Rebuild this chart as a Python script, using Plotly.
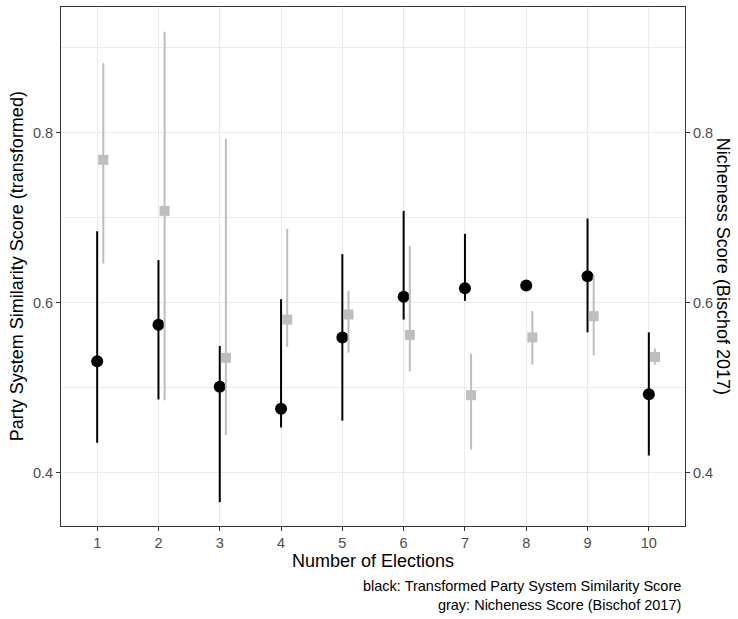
import plotly.graph_objects as go

elections = [1, 2, 3, 4, 5, 6, 7, 8, 9, 10]

# Transformed Party System Similarity Score (black)
sim_est = [0.531, 0.574, 0.501, 0.475, 0.559, 0.607, 0.617, 0.620, 0.631, 0.492]
sim_low = [0.435, 0.486, 0.365, 0.453, 0.461, 0.580, 0.602, 0.618, 0.565, 0.420]
sim_high = [0.684, 0.650, 0.549, 0.604, 0.657, 0.708, 0.681, 0.622, 0.699, 0.565]

# Nicheness Score (Bischof 2017) (gray)
niche_est = [0.768, 0.708, 0.535, 0.580, 0.586, 0.562, 0.491, 0.559, 0.584, 0.536]
niche_low = [0.646, 0.485, 0.444, 0.548, 0.541, 0.519, 0.427, 0.527, 0.538, 0.527]
niche_high = [0.882, 0.919, 0.793, 0.687, 0.614, 0.667, 0.540, 0.590, 0.631, 0.546]

y_ticks = [0.4, 0.6, 0.8]
y_minor = [0.5, 0.7, 0.9]
caption_lines = ["black: Transformed Party System Similarity Score",
                 "gray: Nicheness Score (Bischof 2017)"]

dodge = 0.1
yrange = [0.337, 0.948]
FONT = "Liberation Sans, Arial, sans-serif"
TICK_SIZE = 14.5
TITLE_SIZE = 18

fig = go.Figure()

fig.add_trace(go.Scatter(
    x=[e + dodge for e in elections], y=niche_est, mode="markers",
    marker=dict(symbol="square", size=10, color="#bebebe"),
    error_y=dict(type="data", symmetric=False,
                 array=[h - m for h, m in zip(niche_high, niche_est)],
                 arrayminus=[m - l for m, l in zip(niche_est, niche_low)],
                 color="#bebebe", thickness=2, width=0),
    yaxis="y2", showlegend=False, hoverinfo="x+y"))

fig.add_trace(go.Scatter(
    x=elections, y=sim_est, mode="markers",
    marker=dict(symbol="circle", size=12, color="black"),
    error_y=dict(type="data", symmetric=False,
                 array=[h - m for h, m in zip(sim_high, sim_est)],
                 arrayminus=[m - l for m, l in zip(sim_est, sim_low)],
                 color="black", thickness=2, width=0),
    showlegend=False, hoverinfo="x+y"))

axis_common = dict(
    showline=True, linecolor="#333333", linewidth=1,
    ticks="outside", ticklen=4, tickcolor="#333333", tickwidth=1,
    tickfont=dict(family=FONT, size=TICK_SIZE, color="#4d4d4d"),
    zeroline=False,
)

fig.update_layout(
    width=738, height=619,
    margin=dict(l=61, r=53, t=7, b=93),
    paper_bgcolor="white", plot_bgcolor="white",
    font=dict(family=FONT),
    xaxis=dict(
        range=[0.41, 10.59], tickmode="array", tickvals=elections,
        ticktext=[str(e) for e in elections],
        showgrid=True, gridcolor="#ebebeb", gridwidth=1.1,
        mirror=True, **axis_common),
    yaxis=dict(
        range=yrange, tickmode="array", tickvals=y_ticks,
        ticktext=[f"{v:.1f}" for v in y_ticks],
        showgrid=True, gridcolor="#ebebeb", gridwidth=1.1,
        minor=dict(tickmode="array", tickvals=y_minor,
                   showgrid=True, gridcolor="#ebebeb", gridwidth=0.6, ticks=""),
        mirror=True, **axis_common),
    yaxis2=dict(
        range=yrange, overlaying="y", side="right", tickmode="array",
        tickvals=y_ticks, ticktext=[f"{v:.1f}" for v in y_ticks],
        showgrid=False, **axis_common),
    annotations=[
        dict(text="Number of Elections", xref="paper", yref="paper",
             x=0.5, y=-0.068, xanchor="center", yanchor="middle",
             showarrow=False, font=dict(family=FONT, size=TITLE_SIZE, color="black")),
        dict(text="Party System Similarity Score (transformed)", xref="paper", yref="paper",
             x=-0.071, y=0.5, xanchor="center", yanchor="middle", textangle=-90,
             showarrow=False, font=dict(family=FONT, size=TITLE_SIZE, color="black")),
        dict(text="Nicheness Score (Bischof 2017)", xref="paper", yref="paper",
             x=1.062, y=0.5, xanchor="center", yanchor="middle", textangle=90,
             showarrow=False, font=dict(family=FONT, size=TITLE_SIZE, color="black")),
        dict(text="<br>".join(caption_lines), xref="paper", yref="paper",
             x=0.996, y=-0.1347, xanchor="right", yanchor="middle", align="right",
             showarrow=False, font=dict(family=FONT, size=TICK_SIZE, color="black")),
    ],
)

fig.write_html("out.html", config={"displayModeBar": False},
               post_script="document.body.style.margin='0';document.body.style.padding='0';")
